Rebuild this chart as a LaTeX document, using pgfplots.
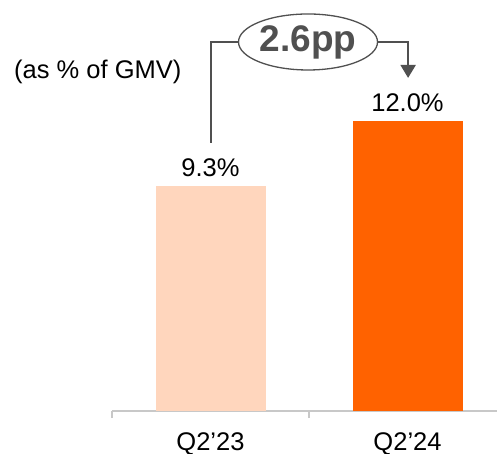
\documentclass[border=0pt]{standalone}
\usepackage{pgfplots}
\pgfplotsset{compat=1.18}
\usepackage{fontspec}
\setmainfont{Liberation Sans}
\usetikzlibrary{shapes.geometric,arrows.meta}

\definecolor{peach}{HTML}{FFD6BD}
\definecolor{brandorange}{HTML}{FF6200}
\definecolor{axisgray}{HTML}{C8C8C8}
\definecolor{notegray}{HTML}{505050}

\newcommand{\lbl}{\fontsize{25.5}{30}\selectfont}

\begin{document}
\begin{tikzpicture}[x=1pt,y=1pt]
\useasboundingbox (0,0) rectangle (497,453);
\begin{axis}[
  at={(112pt,42pt)}, anchor=origin,
  scale only axis, width=385pt, height=362.25pt,
  xmin=0, xmax=1.9543, ymin=0, ymax=15,
  axis x line*=bottom, axis y line=none,
  x axis line style={draw=axisgray, line width=1.2pt},
  xtick={0.5,1.5}, xticklabels={Q2’23, Q2’24},
  major tick length=0pt,
  minor xtick={0,1,2}, minor tick length=7pt, tick align=outside,
  minor x tick style={draw=axisgray, line width=1.2pt},
  xticklabel style={anchor=base, yshift=-39pt, font=\lbl, inner sep=0pt},
  ytick=\empty,
  clip=false,
  ybar, bar width=110pt, bar shift=0pt,
  /pgf/number format/assume math mode=true,
  nodes near coords={\pgfmathprintnumber[fixed,fixed zerofill,precision=1,assume math mode=true]{\pgfplotspointmeta}\%},
  nodes near coords style={anchor=base, yshift=10pt, font=\lbl, inner sep=0pt, text=black},
]
\addplot[fill=peach, draw=none] coordinates {(0.5,9.3)};
\addplot[fill=brandorange, draw=none] coordinates {(1.5,12.0)};

% bracket connecting the two bars, with the change in the middle
\draw[notegray, line width=2pt]
  (axis cs:0.5,11.1) |- (axis cs:0.82,15.28);
\draw[notegray, line width=2pt, -{Triangle[width=15pt,length=13pt]}]
  (axis cs:1.18,15.28) -| (axis cs:1.503,13.79);
\node[draw=notegray, line width=1.3pt, ellipse, fill=white,
      minimum width=139pt, minimum height=56pt, inner sep=0pt,
      text=notegray, font=\fontsize{37}{40}\selectfont\bfseries]
  at (axis cs:0.995,15.28) {2.6pp};
\end{axis}
\node[anchor=base west, inner sep=0pt, font=\lbl] at (14,374) {(as \% of GMV)};
\end{tikzpicture}
\end{document}
